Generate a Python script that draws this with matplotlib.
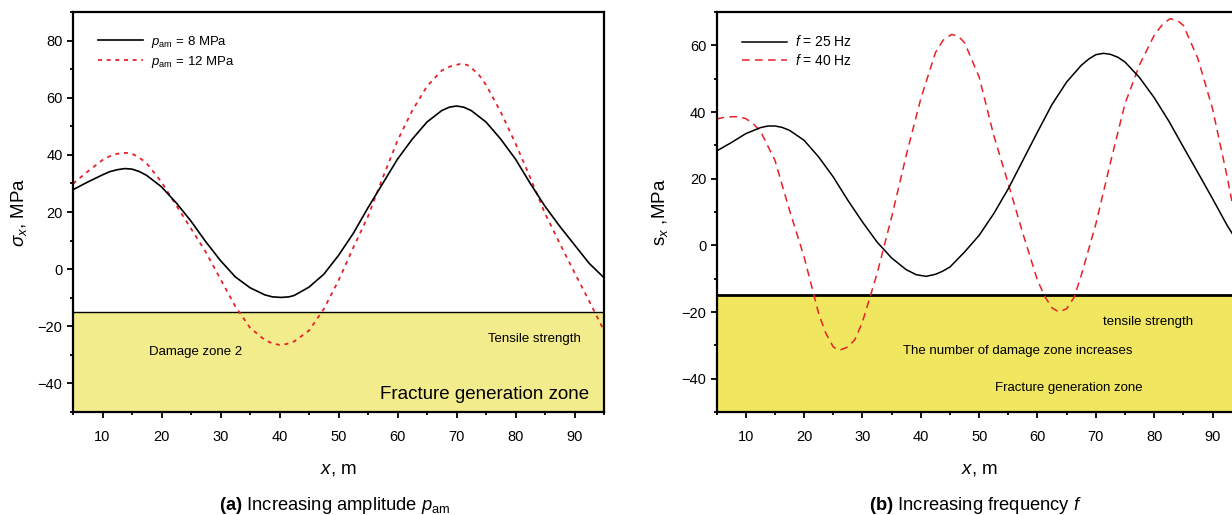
import numpy as np
import matplotlib
matplotlib.use("Agg")
import matplotlib.pyplot as plt

plt.rcParams['font.family'] = ['Liberation Sans', 'DejaVu Sans']
plt.rcParams['mathtext.fontset'] = 'custom'
plt.rcParams['mathtext.rm'] = 'Liberation Sans'
plt.rcParams['mathtext.it'] = 'Liberation Sans:italic'
plt.rcParams['mathtext.bf'] = 'Liberation Sans:bold'

# ---- panel (a): increasing amplitude p_am ----
xa_8 = [5, 7.5, 10, 11.2, 12.5, 13.8, 15, 16.2, 17.5, 20, 22.5, 25, 27.5, 30, 32.5, 35,
        37.5, 38.8, 40.3, 41.6, 42.5, 45, 47.5, 50, 52.5, 55, 57.5, 60, 62.5, 65, 67.5,
        68.8, 70, 71.2, 72.5, 75, 77.5, 80, 82.5, 85, 87.5, 90, 92.5, 95]
sa_8 = [27.8, 30.5, 33, 34.1, 34.8, 35.2, 35, 34.2, 32.8, 28.8, 23.2, 16.8, 9.6, 3, -2.7, -6.5,
        -9, -9.7, -9.9, -9.7, -9.2, -6.3, -1.8, 4.8, 12.5, 21.5, 30, 38.5, 45.5, 51.5, 55.5,
        56.7, 57.1, 56.7, 55.5, 51.5, 45.5, 38.5, 30, 22, 15, 8.5, 2, -3]
xa_12 = [5, 7.5, 10, 11.2, 12.5, 14, 15, 16.2, 17.5, 20, 22.5, 25, 27.5, 30, 32.5, 35,
         37.5, 38.8, 40, 41.2, 42.5, 45, 47.5, 50, 52.5, 55, 57.5, 60, 62.5, 65, 67.5,
         69, 70.6, 71.8, 72.5, 73.8, 75, 77.5, 80, 82.5, 85, 87.5, 90, 92.5, 95]
sa_12 = [29.9, 34.2, 38.2, 39.5, 40.4, 40.7, 40.4, 39.1, 37, 30.5, 22.3, 14.2, 6, -3.5, -13, -20.5,
         -24.8, -26, -26.5, -26.2, -25.3, -21.5, -14, -4, 7.5, 18.5, 32, 45, 55.5, 64, 69.5,
         71, 71.8, 71.5, 70.5, 68, 64.5, 55, 44, 32, 19.5, 9, -1.2, -11.2, -21.5]

# ---- panel (b): increasing frequency f ----
xb_25 = [5, 7.5, 10, 12.5, 13.8, 15, 16.2, 17.5, 20, 22.5, 25, 27.5, 30, 32.5, 35, 37.5,
         39.2, 40.9, 42.5, 43.7, 45, 47.5, 50, 52.5, 55, 57.5, 60, 62.5, 65, 67.5, 68.8,
         70, 71.3, 72.5, 73.8, 75, 77.5, 80, 82.5, 85, 87.5, 90, 92.5, 95]
sb_25 = [28.3, 30.8, 33.5, 35.3, 35.8, 35.8, 35.4, 34.5, 31.5, 26.5, 20.5, 13.5, 7, 1, -3.8, -7.3,
         -8.8, -9.3, -8.7, -7.8, -6.5, -2, 3, 9.5, 17, 25.5, 34, 42.3, 49, 54, 55.9,
         57.2, 57.6, 57.3, 56.4, 55, 50.3, 44.3, 37.3, 29.5, 21.8, 14, 6, -1]
xb_40 = [5, 6.3, 7.8, 9, 10, 11.2, 12.5, 15, 17.5, 20, 22.5, 23.7, 25, 26, 27.5, 28.7, 30,
         32.5, 35, 37.5, 40, 42.5, 43.8, 45.3, 46.5, 47.5, 50, 52.5, 55, 57.5, 60, 61.3,
         62.5, 63.7, 65, 66.3, 67.5, 70, 72.5, 75, 77.5, 80, 81.3, 82.7, 84, 85, 87.5,
         90, 92.5, 95]
sb_40 = [37.9, 38.4, 38.6, 38.5, 38, 36.6, 34.3, 25.5, 10.5, -3.5, -20.5, -26.3, -30.5, -31.5,
         -30.5, -28.3, -23, -8.5, 8.5, 27, 44, 57.8, 61.5, 63.3, 62.6, 60.8, 50.5, 33, 18.5,
         3.5, -10.5, -15.5, -18.8, -20, -19, -15.5, -9, 6.4, 24.8, 42.5, 54.2, 63, 66, 68,
         67.4, 66, 56, 41, 20.6, -2]

tensile = -15
y_bottom = -50

W, H = 1232, 515
fig = plt.figure(figsize=(W / 100, H / 100), dpi=100)
ax1 = fig.add_axes([73 / W, 1 - 412 / H, 531 / W, 400 / H])
ax2 = fig.add_axes([716.6 / W, 1 - 412 / H, 525.1 / W, 400 / H])


def style(ax, ylim, yticks):
    ax.set_xlim(5, 95)
    ax.set_ylim(*ylim)
    ax.set_xticks(np.arange(10, 95, 10))
    ax.set_xticks(np.arange(5, 96, 5), minor=True)
    ax.set_yticks(yticks)
    ax.set_yticks(np.arange(ylim[0], ylim[1] + 1, 10), minor=True)
    ax.tick_params(which='both', direction='out', width=1.3, labelsize=10.5,
                   top=False, right=False)
    ax.tick_params(which='major', length=4)
    ax.tick_params(which='minor', length=2.5)
    ax.tick_params(axis='x', pad=9)
    for s in ax.spines.values():
        s.set_linewidth(1.6)
    ax.set_yticklabels([f'{t}'.replace('-', '\u2212') for t in yticks])
    ax.set_xlabel(r'$x$, m', fontsize=13.5, labelpad=12)


# panel (a)
ax1.axhspan(y_bottom, tensile, color='#f3ec8c', lw=0, zorder=0)
ax1.axhline(tensile, color='black', lw=1.0, zorder=1)
ax1.plot(xa_8, sa_8, color='black', lw=1.2, label=r'$p_{\mathrm{am}}$ = 8 MPa',
         zorder=3, solid_joinstyle='round')
ax1.plot(xa_12, sa_12, color='#e8202a', lw=1.3, ls=(0, (2.2, 2.6)),
         label=r'$p_{\mathrm{am}}$ = 12 MPa', zorder=2)
style(ax1, (-50, 90), [-40, -20, 0, 20, 40, 60, 80])
ax1.set_ylabel(r'$\sigma_x$, MPa', fontsize=13.5, labelpad=6)
ax1.legend(loc='upper left', bbox_to_anchor=(0.025, 0.975), frameon=False,
           fontsize=9.5, handlelength=3.4, handletextpad=0.6, labelspacing=0.3)
ax1.text(25.7, -29, 'Damage zone 2', fontsize=9.5, ha='center', va='center')
ax1.text(91, -24.4, 'Tensile strength', fontsize=9.5, ha='right', va='center')
ax1.text(92.4, -44, 'Fracture generation zone', fontsize=13.5, ha='right', va='center')

# panel (b)
ax2.axhspan(y_bottom, tensile, color='#f0e660', lw=0, zorder=0)
ax2.axhline(tensile, color='black', lw=2.0, zorder=1)
ax2.plot(xb_25, sb_25, color='black', lw=1.1, label=r'$f$ = 25 Hz',
         zorder=3, solid_joinstyle='round')
ax2.plot(xb_40, sb_40, color='#e8202a', lw=1.1, ls=(0, (5, 3.5)),
         label=r'$f$ = 40 Hz', zorder=2)
style(ax2, (-50, 70), [-40, -20, 0, 20, 40, 60])
ax2.set_ylabel(r's$_x$ ,MPa', fontsize=13.5, labelpad=8)
ax2.legend(loc='upper left', bbox_to_anchor=(0.025, 0.975), frameon=False,
           fontsize=10, handlelength=3.2, handletextpad=0.6, labelspacing=0.25)
ax2.text(78.9, -22.9, 'tensile strength', fontsize=9.5, ha='center', va='center')
ax2.text(56.7, -31.6, 'The number of damage zone increases', fontsize=9.5,
         ha='center', va='center')
ax2.text(65.4, -42.7, 'Fracture generation zone', fontsize=9.5, ha='center', va='center')

fig.text(335 / W, 1 - 505 / H, r'$\mathbf{(a)}$ Increasing amplitude $p_{\mathrm{am}}$',
         fontsize=13.2, ha='center', va='center')
fig.text(975 / W, 1 - 505 / H, r'$\mathbf{(b)}$ Increasing frequency $f$',
         fontsize=13.2, ha='center', va='center')

fig.savefig('out.png', dpi=100)
